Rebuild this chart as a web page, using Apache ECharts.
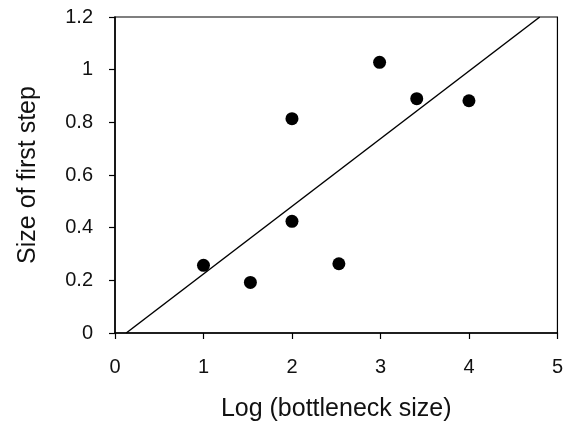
<!DOCTYPE html>
<html>
<head>
<meta charset="utf-8">
<script src="https://cdn.jsdelivr.net/npm/echarts@6/dist/echarts.min.js"></script>
<style>html,body{margin:0;padding:0;background:#fff;}#c{width:566px;height:434px;}</style>
</head>
<body>
<div id="c"></div>
<script>
var pointsX = [1.0, 1.53, 2.0, 2.0, 2.53, 2.99, 3.41, 4.0];
var pointsY = [0.257, 0.192, 0.424, 0.814, 0.263, 1.028, 0.89, 0.882];
var lineX = [0.127, 4.80];
var lineY = [0.0, 1.2];
var xTitle = 'Log (bottleneck size)';
var yTitle = 'Size of first step';

var pts = pointsX.map(function(x, i){ return [x, pointsY[i]]; });
var ln = lineX.map(function(x, i){ return [x, lineY[i]]; });
var font = 'Liberation Sans';
var chart = echarts.init(document.getElementById('c'), null, {renderer:'canvas'});
chart.setOption({
  animation: false,
  backgroundColor: '#fff',
  grid: {left: 115, right: 8, top: 17, bottom: 101, show: true, borderColor: '#000', borderWidth: 1.2, backgroundColor: 'transparent'},
  xAxis: {
    type: 'value', min: 0, max: 5, interval: 1,
    name: xTitle, nameLocation: 'middle', nameGap: 64,
    nameTextStyle: {fontFamily: font, fontSize: 25, color: '#111'},
    axisLine: {show: true, onZero: false, lineStyle: {color: '#000', width: 1.5}},
    axisTick: {show: true, inside: false, length: 6, lineStyle: {color: '#000', width: 1.2}},
    axisLabel: {fontFamily: font, fontSize: 20, color: '#111', margin: 24},
    splitLine: {show: false}
  },
  yAxis: {
    type: 'value', min: 0, max: 1.2, interval: 0.2,
    name: yTitle, nameLocation: 'middle', nameGap: 74,
    nameTextStyle: {fontFamily: font, fontSize: 25, color: '#111'},
    axisLine: {show: true, onZero: false, lineStyle: {color: '#000', width: 1.5}},
    axisTick: {show: true, inside: false, length: 6, lineStyle: {color: '#000', width: 1.2}},
    axisLabel: {fontFamily: font, fontSize: 20, color: '#111', margin: 22,
      formatter: function(v){ return String(Math.round(v*10)/10); }},
    splitLine: {show: false}
  },
  series: [
    {type: 'line', data: ln, symbol: 'none', lineStyle: {color: '#000', width: 1.5}, z: 2},
    {type: 'scatter', data: pts, symbol: 'circle', symbolSize: 13, itemStyle: {color: '#000', opacity: 1}, z: 3}
  ]
});
</script>
</body>
</html>
